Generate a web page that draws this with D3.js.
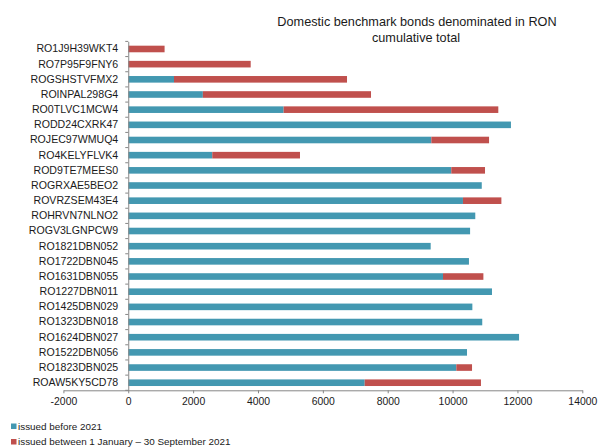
<!DOCTYPE html>
<html>
<head>
<meta charset="utf-8">
<script src="https://cdn.jsdelivr.net/npm/d3@7"></script>
<style>
  html, body { margin: 0; padding: 0; background: #fff; }
  svg { display: block; font-family: "Liberation Sans", Arial, sans-serif; }
</style>
</head>
<body>
<svg id="chart" width="598" height="447"></svg>
<script>
// Bond codes, top to bottom
const categories = [
  "RO1J9H39WKT4", "RO7P95F9FNY6", "ROGSHSTVFMX2", "ROINPAL298G4", "RO0TLVC1MCW4",
  "RODD24CXRK47", "ROJEC97WMUQ4", "RO4KELYFLVK4", "ROD9TE7MEES0", "ROGRXAE5BEO2",
  "ROVRZSEM43E4", "ROHRVN7NLNO2", "ROGV3LGNPCW9", "RO1821DBN052", "RO1722DBN045",
  "RO1631DBN055", "RO1227DBN011", "RO1425DBN029", "RO1323DBN018", "RO1624DBN027",
  "RO1522DBN056", "RO1823DBN025", "ROAW5KY5CD78"
];

// Outstanding amounts issued before 2021
const issuedBefore2021 = [
  0, 0, 1410, 2300, 4790,
  11800, 9345, 2590, 9960, 10900,
  10320, 10700, 10540, 9325, 10505,
  9705, 11215, 10610, 10915, 12050,
  10445, 10115, 7290
];

// Amounts issued between 1 January and 30 September 2021
const issued2021 = [
  1120, 3775, 5335, 5185, 6620,
  0, 1780, 2705, 1040, 0,
  1185, 0, 0, 0, 0,
  1245, 0, 0, 0, 0,
  0, 485, 3585
];

const xTicks = [-2000, 0, 2000, 4000, 6000, 8000, 10000, 12000, 14000];

const seriesNames = ["issued before 2021", "issued between 1 January \u2013 30 September 2021"];
const seriesColors = ["#4398b1", "#c0504d"];

const rows = categories.map((c, i) => ({ name: c, before: issuedBefore2021[i], during: issued2021[i] }));
const stacked = d3.stack().keys(["before", "during"])(rows);

const svg = d3.select("#chart");

const x = d3.scaleLinear().domain([-2000, 14000]).range([63.4, 582.3]);
const y = d3.scaleBand().domain(categories).range([41.4, 390.3])
  .paddingInner(0.565).paddingOuter(0.2825);

const axisColor = "#868686";
const textColor = "#1a1a1a";

// Title
const title = svg.append("text")
  .attr("text-anchor", "middle")
  .attr("font-size", 12.7)
  .attr("fill", textColor);
title.append("tspan").attr("x", 417).attr("y", 25.5).text("Domestic benchmark bonds denominated in RON");
title.append("tspan").attr("x", 416).attr("y", 41.5).text("cumulative total");

// Bars
svg.append("g")
  .selectAll("g")
  .data(stacked)
  .join("g")
  .attr("fill", (d, i) => seriesColors[i])
  .selectAll("rect")
  .data(d => d)
  .join("rect")
  .attr("x", d => x(d[0]))
  .attr("y", d => y(d.data.name))
  .attr("width", d => Math.max(0, x(d[1]) - x(d[0])))
  .attr("height", y.bandwidth());

// X axis (plain hyphen for negative numbers)
const xAxis = svg.append("g")
  .attr("transform", `translate(0,${y.range()[1]})`)
  .call(d3.axisBottom(x).tickValues(xTicks).tickFormat(d => String(d))
    .tickSize(3).tickSizeOuter(0).tickPadding(4.5));
xAxis.select(".domain").attr("stroke", axisColor);
xAxis.selectAll(".tick line").attr("stroke", axisColor);
xAxis.selectAll("text").attr("font-size", 10.4).attr("fill", textColor)
  .attr("font-family", "'Liberation Sans', Arial, sans-serif");

// Y axis with category labels
const yAxis = svg.append("g")
  .attr("transform", `translate(${x(0)},0)`)
  .call(d3.axisLeft(y).tickSize(0).tickSizeOuter(0).tickPadding(10));
yAxis.select(".domain").attr("stroke", axisColor);
yAxis.selectAll("text").attr("font-size", 10.6).attr("fill", textColor)
  .attr("font-family", "'Liberation Sans', Arial, sans-serif");

// Tick marks on the category axis sit between the bands
const step = y.step();
const bounds = d3.range(categories.length + 1).map(i => y.range()[0] + i * step);
yAxis.selectAll(".band-tick")
  .data(bounds)
  .join("line")
  .attr("class", "band-tick")
  .attr("x1", -3).attr("x2", 0)
  .attr("y1", d => d).attr("y2", d => d)
  .attr("stroke", axisColor);

// Legend
const legend = svg.append("g");
const legendRows = legend.selectAll("g")
  .data(seriesNames)
  .join("g")
  .attr("transform", (d, i) => `translate(11,${423.5 + i * 15.5})`);
legendRows.append("rect")
  .attr("width", 5.5).attr("height", 5.5)
  .attr("fill", (d, i) => seriesColors[i]);
legendRows.append("text")
  .attr("x", 7).attr("y", 6.2)
  .attr("font-size", 9.9)
  .attr("fill", textColor)
  .text(d => d);
</script>
</body>
</html>
